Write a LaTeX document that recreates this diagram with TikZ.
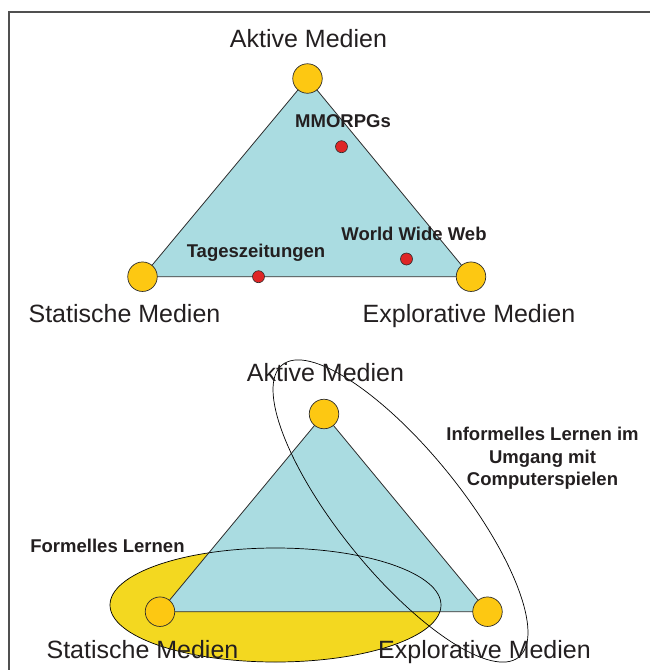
\documentclass[tikz,border=0pt]{standalone}
\usepackage{fontspec}
\setmainfont{Liberation Sans}
\definecolor{txt}{RGB}{35,31,32}
\definecolor{lin}{RGB}{45,45,45}
\definecolor{gold}{RGB}{253,200,18}
\definecolor{cyanf}{RGB}{170,220,225}
\definecolor{yel}{RGB}{243,216,32}
\definecolor{reddot}{RGB}{222,38,38}
\definecolor{framec}{RGB}{80,80,80}
\begin{document}
\begin{tikzpicture}[x=1pt,y=-1pt,
  big/.style={font=\fontsize{25}{30}\selectfont, text=txt, inner sep=0pt, anchor=base},
  small/.style={font=\fontsize{18.5}{22.5}\selectfont\bfseries, text=txt, inner sep=0pt, anchor=base},
  vert/.style={circle, draw=lin, line width=0.7pt, fill=gold, minimum size=29.5pt, inner sep=0pt},
  dot/.style={circle, draw=lin, line width=0.6pt, fill=reddot, minimum size=12pt, inner sep=0pt},
  tri/.style={fill=cyanf, draw=lin, line width=0.8pt, line join=round},
  elline/.style={draw=black, line width=0.7pt},
  frameline/.style={draw=framec, line width=1.4pt}
]
\useasboundingbox (0,0) rectangle (650,670);
\draw[frameline] (9,670) -- (9,12) -- (650,12);

% ---------- top triangle ----------
\coordinate (a1) at (307.5,78.5);
\coordinate (s1) at (142.5,276.7);
\coordinate (e1) at (471,276.7);
\draw[tri] (a1) -- (s1) -- (e1) -- cycle;
\node[vert] (A1) at (a1) {};
\node[vert] (S1) at (s1) {};
\node[vert] (E1) at (e1) {};
\node[dot] (mmo) at (341.5,146.7) {};
\node[dot] (www) at (406.5,259) {};
\node[dot] (tag) at (258.5,276.7) {};
\node[big] (lA1) at (308.5,47.5) {Aktive Medien};
\node[big] (lS1) at (124.5,322.7) {Statische Medien};
\node[big] (lE1) at (469,322.7) {Explorative Medien};
\node[small] (lmmo) at (343,127.7) {MMORPGs};
\node[small] (lwww) at (414,240) {World Wide Web};
\node[small] (ltag) at (256,257.7) {Tageszeitungen};

% ---------- bottom triangle ----------
\coordinate (a2) at (324,414);
\coordinate (s2) at (160,611.7);
\coordinate (e2) at (487.5,611.7);
\coordinate (fc) at (275.5,605);
\coordinate (ic) at (400.5,511);
\fill[yel] (fc) ellipse [x radius=165.5pt, y radius=57pt];
\draw[tri] (a2) -- (s2) -- (e2) -- cycle;
\draw[elline] (fc) ellipse [x radius=165.5pt, y radius=57pt];
\draw[elline, rotate around={-51:(ic)}] (ic) ellipse [x radius=188pt, y radius=61pt];
\node[vert] (A2) at (a2) {};
\node[vert] (S2) at (s2) {};
\node[vert] (E2) at (e2) {};
\node[big] (lA2) at (325.5,381.7) {Aktive Medien};
\node[big] (lS2) at (142.5,658.3) {Statische Medien};
\node[big] (lE2) at (484.5,658.3) {Explorative Medien};
\node[small] (lform) at (107.5,552.7) {Formelles Lernen};
\node[small] (linf1) at (542.5,440.7) {Informelles Lernen im};
\node[small] (linf2) at (542.5,463) {Umgang mit};
\node[small] (linf3) at (542.5,485.7) {Computerspielen};
\end{tikzpicture}
\end{document}
